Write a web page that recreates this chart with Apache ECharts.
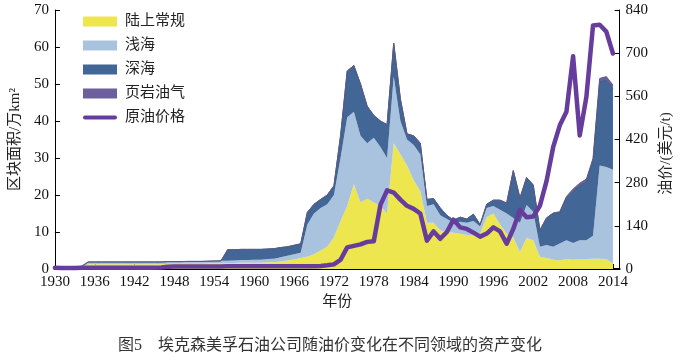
<!DOCTYPE html>
<html>
<head>
<meta charset="utf-8">
<script src="https://cdn.jsdelivr.net/npm/echarts@6/dist/echarts.min.js"></script>
<style>html,body{margin:0;padding:0;background:#fff;}#c{width:682px;height:360px;}</style>
</head>
<body>
<div id="c"></div>
<script>
const years = [1930,1931,1932,1933,1934,1935,1936,1937,1938,1939,1940,1941,1942,1943,1944,1945,1946,1947,1948,1949,
1950,1951,1952,1953,1954,1955,1956,1957,1958,1959,1960,1961,1962,1963,1964,1965,1966,1967,1968,1969,
1970,1971,1972,1973,1974,1975,1976,1977,1978,1979,1980,1981,1982,1983,1984,1985,1986,1987,1988,1989,
1990,1991,1992,1993,1994,1995,1996,1997,1998,1999,2000,2001,2002,2003,2004,2005,2006,2007,2008,2009,
2010,2011,2012,2013,2014,2015];
// 陆上常规 (万km²)
const onshore = [0.4,0.4,0.4,0.4,0.5,
1.3,1.3,1.3,1.3,1.3,1.3,1.3,1.3,1.3,1.3,1.3,1.3,
1.4,1.4,1.4,1.45,1.45,1.45,1.5,1.5,1.5,
1.6,1.6,1.7,1.7,1.7,1.7,1.8,1.8,2.0,2.3,2.6,3.0,
3.3,4.0,5.0,6.0,8.5,13,17,23,18,19,18,17,
15,34,31,28,24,21,12.5,12.5,10.5,10,
9.8,9.5,9.2,9.2,9.5,14,15,12,9.5,8.5,
4.5,8.4,7.8,3.3,3.0,2.5,2.3,2.7,2.5,2.7,
2.7,2.8,2.8,2.7,1.5,null];
// 浅海
const shallow = [0.2,0.2,0.2,0.2,0.2,
0.6,0.6,0.6,0.6,0.6,0.6,0.6,0.6,0.6,0.6,0.6,0.6,
0.6,0.6,0.6,0.6,0.6,0.6,0.6,0.65,0.7,
0.6,0.7,0.7,0.7,0.8,0.8,0.9,1.0,1.2,1.3,1.4,1.4,
8.7,11.0,11.5,11.5,11.5,17,24,19.5,18,15,17.5,16,
15,18,9,7,9.5,10,4.5,5,4,3.5,
2.7,3.3,3.3,3.8,2,2.5,2,4,5.5,5.3,
8,8.9,7.7,2.7,3.5,3.5,4.6,5.1,4.5,5.1,
5.1,6.2,25.2,24.9,25.3,null];
// 深海
const deepwater = [0,0,0,0,0,0,0,0,0,0,0,0,0,0,0,0,0,0,0,0,0,0,0,0,0,0,
3.0,2.9,2.9,2.9,2.8,2.8,2.7,2.7,2.6,2.4,2.4,2.4,
3.3,2.5,2.3,2.5,2.5,6,12.5,12.5,14,10,6,7,
9,9,6,1.5,2.5,3,1.8,1.5,2,1,
0.7,1.2,1,1.8,0.5,1,1.6,2.6,2.8,12.8,
6.7,7.4,7.2,4.5,7.3,9.1,8.3,11.4,14.0,14.7,
15.7,20.0,22.5,23.4,21.9,null];
// 页岩油气
const shale = [0,0,0,0,0,0,0,0,0,0,0,0,0,0,0,0,0,0,0,0,0,0,0,0,0,0,0,0,0,0,
0,0,0,0,0,0,0,0,0,0,0,0,0,0,0,0,0,0,0,0,0,0,0,0,0,0,0,0,0,0,
0,0,0,0,0,0,0,0,0,0,0,0,0,0,0,0,
0.3,0.4,0.6,0.7,0.8,0.9,1.0,1.0,1.0,null];
// 原油价格 (美元/t)
const oilPrice = [4,3,3,3,4,4,4,4,4,4,4,4,4,4,4,4,5,
7,8,8,8,8,8,8,8,8,9,9,9,9,9,9,9,9,9,9,9,9,9,9,
10,12,15,30,70,75,80,88,90,208,
255,248,225,205,195,180,92,122,98,120,
160,135,130,118,105,115,135,122,82,130,
192,168,170,205,285,395,466,510,690,433,
558,790,792,770,699,null];

const names = ['陆上常规','浅海','深海','页岩油气','原油价格'];
const colors = ['#ede64f','#a9c3df','#426796','#6d5f9b','#663c9d'];
const leftTicks = {min:0, max:70, interval:10};
const rightTicks = {min:0, max:840, interval:140};
const xLabelStep = 6;
const lastLabelYear = 2014;

const serif = "'Liberation Serif', 'Noto Sans CJK SC', serif";
const showYear = (idx, val) => {
  const y = Number(val);
  return (y - years[0]) % xLabelStep === 0 && y <= lastLabelYear;
};
const areaSeries = [onshore, shallow, deepwater, shale].map((arr,k)=>({
  name: names[k], type:'line', stack:'assets', data: arr,
  symbol:'none', smooth:false,
  itemStyle:{color:colors[k]},
  lineStyle: k===3 ? {width:1, color:'#5f5a85'} : (k===2 ? {width:1, color:'#3a5b87'} : {width:0}),
  areaStyle:{color:colors[k], opacity:1},
  z: 2
}));

const chart = echarts.init(document.getElementById('c'), null, {renderer:'canvas'});
chart.setOption({
  animation:false,
  backgroundColor:'#fff',
  title:{
    text:'图5\u3000埃克森美孚石油公司随油价变化在不同领域的资产变化',
    left:113, top:333,
    textStyle:{fontSize:16, fontWeight:'normal', color:'#333', fontFamily:serif}
  },
  legend:{
    orient:'vertical', left:78, top:9, itemWidth:34, itemHeight:10, itemGap:9,
    textStyle:{fontSize:15, color:'#222', fontFamily:serif, padding:[0,0,0,3]},
    data:[
      {name:names[0], icon:'rect'},
      {name:names[1], icon:'rect'},
      {name:names[2], icon:'rect'},
      {name:names[3], icon:'rect'},
      {name:names[4], icon:'path://M2,0 L32,0 A2,2 0 0 1 32,4 L2,4 A2,2 0 0 1 2,0 Z'}
    ]
  },
  grid:{left:46, right:52, top:10, bottom:91},
  xAxis:{
    type:'category', data: years.map(String), boundaryGap:false,
    name:'年份', nameLocation:'middle', nameGap:25,
    nameTextStyle:{fontSize:15, color:'#222', fontFamily:serif},
    axisLine:{lineStyle:{color:'#000', width:2}},
    axisTick:{inside:true, length:5, interval: showYear, lineStyle:{color:'#000'}},
    axisLabel:{fontSize:15, color:'#111', fontFamily:serif, margin:6, interval: showYear},
    splitLine:{show:false}
  },
  yAxis:[{
    type:'value', min:leftTicks.min, max:leftTicks.max, interval:leftTicks.interval,
    name:'区块面积/万km²', nameLocation:'middle', nameGap:27, nameRotate:90,
    nameTextStyle:{fontSize:15, color:'#222', fontFamily:serif},
    axisLine:{show:true, lineStyle:{color:'#000', width:1}},
    axisTick:{show:true, inside:true, length:5, lineStyle:{color:'#000'}},
    axisLabel:{fontSize:15, color:'#111', fontFamily:serif, margin:6},
    splitLine:{show:false}
  },{
    type:'value', min:rightTicks.min, max:rightTicks.max, interval:rightTicks.interval,
    position:'right',
    name:'油价/(美元/t)', nameLocation:'middle', nameGap:29, nameRotate:90,
    nameTextStyle:{fontSize:15, color:'#222', fontFamily:serif, padding:[0,28,0,0]},
    axisLine:{show:true, lineStyle:{color:'#000', width:1}},
    axisTick:{show:true, inside:true, length:5, lineStyle:{color:'#000'}},
    axisLabel:{fontSize:15, color:'#111', fontFamily:serif, margin:6},
    splitLine:{show:false}
  }],
  series: areaSeries.concat([{
    name:names[4], type:'line', yAxisIndex:1, data: oilPrice,
    symbol:'none', itemStyle:{color:colors[4]},
    lineStyle:{width:4.5, color:colors[4], cap:'round', join:'round'},
    z: 5
  }])
});
</script>
</body>
</html>
